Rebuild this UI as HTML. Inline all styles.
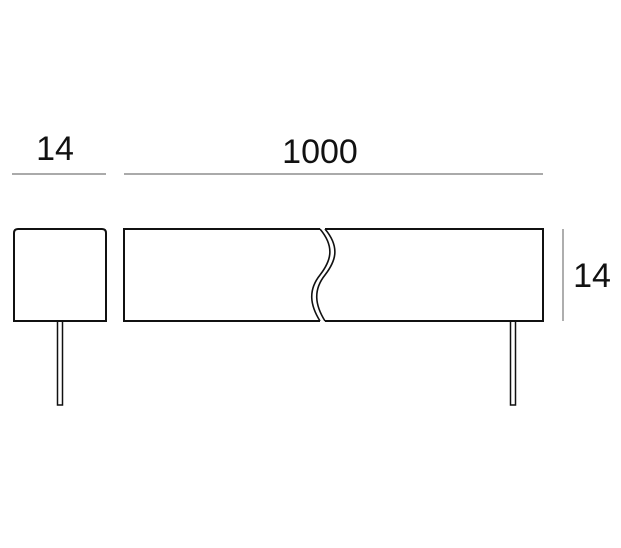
<!DOCTYPE html>
<html><head><style>body{margin:0;background:#fff}svg{display:block}</style></head>
<body>
<svg width="621" height="548" viewBox="0 0 621 548" xmlns="http://www.w3.org/2000/svg">
<rect width="621" height="548" fill="#fff"/>
<g font-family="Liberation Sans, sans-serif" font-size="34" fill="#111">
<text x="55" y="160" text-anchor="middle">14</text>
<text x="320" y="163" text-anchor="middle">1000</text>
<text x="592" y="287" text-anchor="middle">14</text>
</g>
<g stroke="#777" stroke-width="1.2">
<line x1="12" y1="174" x2="106" y2="174"/>
<line x1="124" y1="174" x2="543" y2="174"/>
<line x1="563" y1="229" x2="563" y2="321"/>
</g>
<g fill="none" stroke="#111" stroke-width="2">
<path d="M14,321 V233 Q14,229 18,229 H102 Q106,229 106,233 V321 Z"/>
<rect x="57.5" y="321" width="5" height="84" stroke-width="1.5"/>
<rect x="510.5" y="321" width="5" height="84" stroke-width="1.5"/>
<path d="M320,229 H124 V321 H320"/>
<path d="M325,229 H543 V321 H325"/>
<path d="M320,229 C336,248 330,262 320,275 C308,290 310,305 320,321" stroke-width="1.6"/>
<path d="M325,229 C341,248 335,262 325,275 C313,290 315,305 325,321" stroke-width="1.6"/>
</g>
</svg>
</body></html>
